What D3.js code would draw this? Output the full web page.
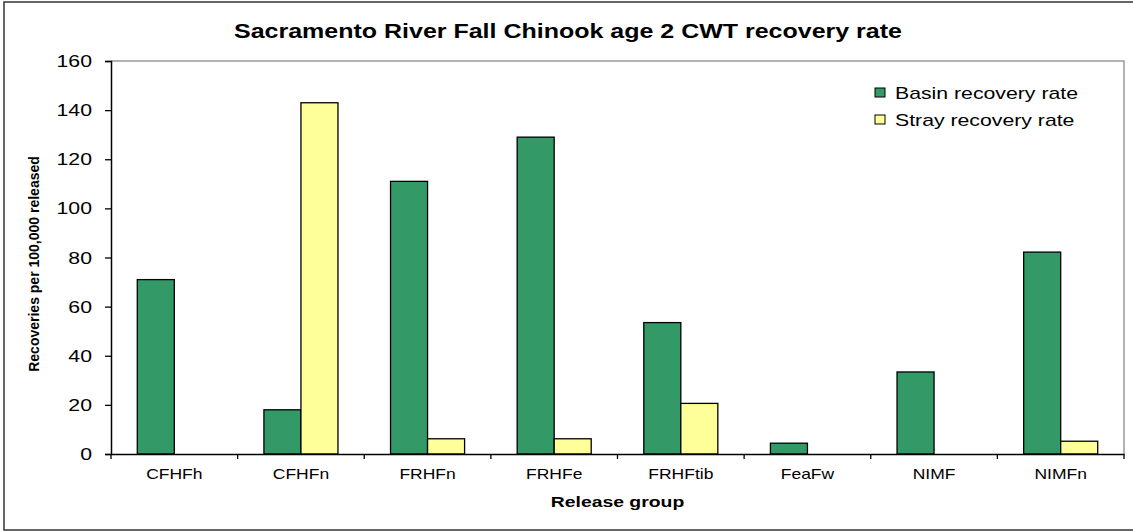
<!DOCTYPE html>
<html>
<head>
<meta charset="utf-8">
<script src="https://cdn.jsdelivr.net/npm/d3@7"></script>
<style>
  body { margin: 0; background: #fff; }
  svg { display: block; font-family: "Liberation Sans", Arial, sans-serif; }
</style>
</head>
<body>
<svg id="chart" width="1133" height="531"></svg>
<script>
// data
const groups = ['CFHFh', 'CFHFn', 'FRHFn', 'FRHFe', 'FRHFtib', 'FeaFw', 'NIMF', 'NIMFn'];
const basinRate = [71, 18, 111, 129, 53.5, 4.4, 33.4, 82.2];
const strayRate = [0, 143, 6.2, 6.2, 20.6, 0, 0, 5.2];
const seriesNames = ['Basin recovery rate', 'Stray recovery rate'];
const seriesColors = ['#339966', '#FFFF99'];
const yTicks = [0, 20, 40, 60, 80, 100, 120, 140, 160];

const W = 1133, H = 531;
const plot = { left: 111, right: 1124, top: 61, bottom: 454 };
const sx = 1.25; // the picture is stretched sideways

const svg = d3.select('#chart');

// outer frame
svg.append('rect')
  .attr('x', 4).attr('y', 2)
  .attr('width', W + 10).attr('height', 528)
  .attr('fill', 'none')
  .attr('stroke', '#333')
  .attr('stroke-width', 1.5);

const x = d3.scaleBand()
  .domain(groups)
  .range([plot.left, plot.right])
  .padding(0);

const inner = d3.scaleBand()
  .domain([0, 1])
  .range([0, x.bandwidth()])
  .paddingOuter(0.71)
  .paddingInner(0);

const y = d3.scaleLinear()
  .domain([0, 160])
  .range([plot.bottom, plot.top]);

// helper: stretched text
function label(parent, px, py, txt, anchor, size, weight) {
  const g = parent.append('g')
    .attr('transform', `translate(${px},${py}) scale(${sx},1)`);
  g.append('text')
    .attr('text-anchor', anchor)
    .attr('font-size', size)
    .attr('font-weight', weight || 'normal')
    .attr('fill', '#000')
    .text(txt);
  return g;
}

// plot border (top and right, grey)
svg.append('path')
  .attr('d', `M${plot.left},${plot.top}H${plot.right}V${plot.bottom}`)
  .attr('fill', 'none')
  .attr('stroke', '#999')
  .attr('stroke-width', 1.5);

// bars
const rows = groups.map((g, i) => ({ group: g, values: [basinRate[i], strayRate[i]] }));

svg.append('g')
  .selectAll('g')
  .data(rows)
  .join('g')
    .attr('transform', d => `translate(${x(d.group)},0)`)
  .selectAll('rect')
  .data(d => d.values.map((v, k) => ({ k, v })).filter(e => e.v > 0))
  .join('rect')
    .attr('x', d => inner(d.k))
    .attr('y', d => y(d.v))
    .attr('width', inner.bandwidth())
    .attr('height', d => y(0) - y(d.v))
    .attr('fill', d => seriesColors[d.k])
    .attr('stroke', '#000')
    .attr('stroke-width', 1.3);

// y axis
const yAxis = svg.append('g')
  .attr('transform', `translate(${plot.left},0)`)
  .call(d3.axisLeft(y).tickValues(yTicks).tickSize(6).tickPadding(10));
yAxis.select('.domain').attr('stroke', '#000').attr('stroke-width', 1.5);
yAxis.selectAll('.tick line').attr('stroke', '#000').attr('stroke-width', 1.3);
yAxis.selectAll('.tick text').remove();
yTicks.forEach(t => {
  label(svg, plot.left - 19, y(t) + 6, String(t), 'end', 17);
});

// x axis
const xAxis = svg.append('g')
  .attr('transform', `translate(0,${plot.bottom})`)
  .call(d3.axisBottom(x).tickSize(0).tickFormat(''));
xAxis.select('.domain').attr('stroke', '#000').attr('stroke-width', 1.5);
const bounds = groups.map(g => x(g)).concat([plot.right]);
xAxis.selectAll('.edge')
  .data(bounds)
  .join('line')
    .attr('class', 'edge')
    .attr('x1', d => d).attr('x2', d => d)
    .attr('y1', 0).attr('y2', 5)
    .attr('stroke', '#000')
    .attr('stroke-width', 1.3);
groups.forEach(g => {
  label(svg, x(g) + x.bandwidth() / 2, 479, g, 'middle', 14);
});

// titles
label(svg, 568, 38, 'Sacramento River Fall Chinook age 2 CWT recovery rate', 'middle', 20, 'bold');
label(svg, (plot.left + plot.right) / 2, 507, 'Release group', 'middle', 15.5, 'bold');

svg.append('text')
  .attr('transform', `translate(39,264) rotate(-90)`)
  .attr('text-anchor', 'middle')
  .attr('font-size', 14)
  .attr('font-weight', 'bold')
  .text('Recoveries per 100,000 released');

// legend
const legend = svg.append('g').attr('transform', 'translate(875,87)');
seriesNames.forEach((name, i) => {
  const row = legend.append('g').attr('transform', `translate(0,${i * 27})`);
  row.append('rect')
    .attr('x', 0).attr('y', 1)
    .attr('width', 10).attr('height', 9)
    .attr('fill', seriesColors[i])
    .attr('stroke', '#000')
    .attr('stroke-width', 1);
  label(row, 20, 11.5, name, 'start', 17);
});
</script>
</body>
</html>
